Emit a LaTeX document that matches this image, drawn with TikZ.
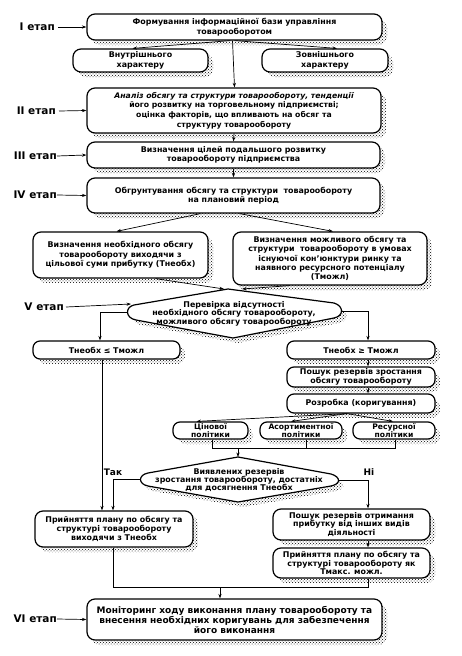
\documentclass[tikz,border=0pt]{standalone}
\usepackage{fontspec}
\setmainfont{DejaVu Sans}
\usetikzlibrary{arrows.meta,calc,patterns}
\definecolor{shd}{rgb}{0.45,0.45,0.45}
\begin{document}
\begin{tikzpicture}[x=1pt,y=-1pt,
  shadowbox/.style={draw=none, pattern=crosshatch dots, pattern color=black, rounded corners=8pt},
  box/.style={draw, line width=1.2pt, rounded corners=8pt, fill=white, align=center,
    font=\bfseries\fontsize{7.9}{9.4}\selectfont, inner sep=1pt},
  pill/.style={box, rounded corners=7pt},
  arr/.style={-{Stealth[length=4.5pt,width=3.2pt]}, line width=0.7pt},
  lnk/.style={line width=0.7pt},
  stage/.style={font=\bfseries\fontsize{10.5}{12}\selectfont, inner sep=0pt},
  dtext/.style={align=center, font=\bfseries\fontsize{7.9}{8.4}\selectfont, inner sep=0pt},
  dshape/.style={draw, line width=1.2pt, fill=white},
  dshadow/.style={draw=none, pattern=crosshatch dots, pattern color=black},
  brlabel/.style={font=\bfseries\fontsize{9}{10}\selectfont, inner sep=0pt}
]
\useasboundingbox (0,0) rectangle (461,656);

% stage labels
\node[stage, anchor=east] (s1) at (55,27) {I етап};
\node[stage, anchor=east] (s2) at (56,111) {II етап};
\node[stage, anchor=east] (s3) at (57,156) {III етап};
\node[stage, anchor=east] (s4) at (57,195) {IV етап};
\node[stage, anchor=east] (s5) at (64,307) {V етап};
\node[stage, anchor=east] (s6) at (57,619) {VI етап};

% shadows of boxes (drawn first)
\foreach \cx/\cy/\w/\h in {234.5/27/295/26, 140.5/60.5/135/23, 325/60.5/126/23, 234/110.5/294/45, 233.5/155/293/26, 233.5/195.5/293/35, 120.5/255/175/46, 330/258.5/194/53, 106.5/350/147/18, 361/350/148/18, 361/377/148/20, 361/403.5/148/19, 210.5/430.5/75/17, 301/430.5/82/17, 394/430.5/82/17, 114/529/158/36, 351.5/524.5/157/31, 351.5/563/157/30, 234.5/619.5/295/41}
  \path[shadowbox] (\cx-\w/2+5,\cy-\h/2+5) rectangle (\cx+\w/2+5,\cy+\h/2+5);

% boxes
\node[box, minimum width=295pt, minimum height=26pt] (b1) at (234.5,27) {Формування інформаційної бази управління\\товарооборотом};
\node[box, minimum width=135pt, minimum height=23pt] (b2) at (140.5,60.5) {Внутрішнього\\характеру};
\node[box, minimum width=126pt, minimum height=23pt] (b3) at (325,60.5) {Зовнішнього\\характеру};
\node[box, minimum width=294pt, minimum height=45pt, font=\bfseries\fontsize{7.7}{9.6}\selectfont] (b4) at (234,110.5) {\itshape Аналіз обсягу та структури товарообороту, тенденції\\його розвитку на торговельному підприємстві;\\оцінка факторів, що впливають на обсяг та\\структуру товарообороту};
\node[box, minimum width=293pt, minimum height=26pt] (b5) at (233.5,155) {Визначення цілей подальшого розвитку\\товарообороту підприємства};
\node[box, minimum width=293pt, minimum height=35pt] (b6) at (233.5,195.5) {Обгрунтування обсягу та структури \ товарообороту\\на плановий період};
\node[box, minimum width=175pt, minimum height=46pt] (b7) at (120.5,255) {Визначення необхідного обсягу\\товарообороту виходячи з\\цільової суми прибутку (Тнеобх)};
\node[box, minimum width=194pt, minimum height=53pt] (b8) at (330,258.5) {Визначення можливого обсягу та\\структури \ товарообороту в умовах\\існуючої кон'юнктури ринку та\\наявного ресурсного потенціалу\\(Тможл)};
\node[pill, minimum width=147pt, minimum height=18pt] (b10) at (106.5,350) {Тнеобх ≤ Тможл};
\node[pill, minimum width=148pt, minimum height=18pt] (b11) at (361,350) {Тнеобх ≥ Тможл};
\node[pill, minimum width=148pt, minimum height=20pt, font=\bfseries\fontsize{7.9}{8.6}\selectfont] (b12) at (361,377) {Пошук резервів зростання\\обсягу товарообороту};
\node[pill, minimum width=148pt, minimum height=19pt] (b13) at (361,403.5) {Розробка (коригування)};
\node[pill, minimum width=75pt, minimum height=17pt, font=\bfseries\fontsize{7.6}{8.4}\selectfont] (p1) at (210.5,430.5) {Цінової\\політики};
\node[pill, minimum width=82pt, minimum height=17pt, font=\bfseries\fontsize{7.6}{8.4}\selectfont] (p2) at (301,430.5) {Асортиментної\\політики};
\node[pill, minimum width=82pt, minimum height=17pt, font=\bfseries\fontsize{7.6}{8.4}\selectfont] (p3) at (394,430.5) {Ресурсної\\політики};
\node[box, minimum width=158pt, minimum height=36pt] (b18) at (114,529) {Прийняття плану по обсягу та\\структурі товарообороту\\виходячи з Тнеобх};
\node[box, minimum width=157pt, minimum height=31pt, font=\bfseries\fontsize{7.9}{8.8}\selectfont] (b19) at (351.5,524.5) {Пошук резервів отримання\\прибутку від інших видів\\діяльності};
\node[box, minimum width=157pt, minimum height=30pt, font=\bfseries\fontsize{7.9}{8.8}\selectfont] (b20) at (351.5,563) {Прийняття плану по обсягу та\\структурі товарообороту як\\Тмакс. можл.};
\node[box, minimum width=295pt, minimum height=41pt, font=\bfseries\fontsize{9}{10}\selectfont] (b21) at (234.5,619.5) {Моніторинг ходу виконання плану товарообороту та\\внесення необхідних коригувань для забезпечення\\його виконання};

% decision 1
\path[dshadow] (139,310) -- (233,294) -- (339,308) .. controls (349,311) and (349,321) .. (339,323) -- (238,343) -- (141,325) .. controls (130,323) and (130,312) .. (139,310) -- cycle;
\draw[dshape] (134,305) -- (228,289) -- (334,303) .. controls (344,306) and (344,316) .. (334,318) -- (233,338) -- (136,320) .. controls (125,318) and (125,307) .. (134,305) -- cycle;
\node[dtext] (d1) at (234,313.5) {Перевірка відсутності\\необхідного обсягу товарообороту,\\можливого обсягу товарообороту};
\coordinate (d1t) at (228,289);
\coordinate (d1l) at (127,312);
\coordinate (d1r) at (342,311);

% decision 2
\path[dshadow] (153,478) -- (243,462) -- (336,479) .. controls (346,482) and (346,489) .. (336,491) -- (243,507) -- (153,491) .. controls (143,489) and (143,480) .. (153,478) -- cycle;
\draw[dshape] (148,473) -- (238,457) -- (331,474) .. controls (341,477) and (341,484) .. (331,486) -- (238,502) -- (148,486) .. controls (138,484) and (138,475) .. (148,473) -- cycle;
\node[dtext] (d2) at (239,480) {Виявлених резервів\\зростання товарообороту, достатніх\\для досягнення Тнеобх};
\coordinate (d2t) at (238,457);
\coordinate (d2l) at (140.5,479.5);
\coordinate (d2r) at (338.5,480);

% helper coordinates
\coordinate (xL) at (100,0);
\coordinate (xL2) at (102,0);
\coordinate (xL3) at (113,0);
\coordinate (xR) at (368,0);

% stage arrows
\draw[arr] (s1.east) ++(3,0) -- (b1.west);
\draw[arr] (s2.east) ++(3,0) -- (b4.west);
\draw[arr] (s3.east) -- (b5.west);
\draw[arr] (s4.east) -- (b6.west);
\draw[arr] (s5.east) ++(2,0) -- ($(d1l)+(4,-8)$);
\draw[arr] (s6.east) -- (b21.west);

% connectors
\draw[arr] ($(b1.south)+(-4,0)$) -- ($(b2.north)+(-8,0)$);
\draw[arr] ($(b1.south)+(0,0)$) -- ($(b3.north)+(12,0)$);
\draw[arr] ($(b1.south)+(-2,0)$) -- (b4.north -| b1.south);
\draw[arr] (b4.south) -- (b5.north);
\draw[arr] (b5.south) -- (b6.north);
\draw[arr] ($(b6.south)+(-33,0)$) -- ($(b7.north)+(-4,0)$);
\draw[arr] ($(b6.south)+(6,0)$) -- ($(b8.north)+(3,0)$);
\draw[arr] ($(b7.south)+(35,0)$) -- ($(d1t)+(-4,0)$);
\draw[arr] ($(b8.south)+(-40,0)$) -- ($(d1t)+(14,0)$);
\draw[arr] (d1l) -| (b10.north -| xL);
\draw[arr] (d1r) -| (b11.north -| xR);
\draw[arr] (b11.south -| xR) -- (b12.north -| xR);
\draw[arr] (b12.south -| xR) -- (b13.north -| xR);
\draw[arr] ($(b13.south)+(-14,0)$) -- ($(p1.north)+(-14,0)$);
\draw[arr] ($(b13.south)+(-14,0)$) -- ($(p2.north)+(-10,0)$);
\draw[arr] ($(b13.south)+(-14,0)$) -- ($(p3.north)+(-1,0)$);
\draw[lnk] ($(p1.south)+(1.5,0)$) |- (238,448) coordinate (brk);
\draw[lnk] ($(p3.south)+(1,0)$) |- (brk);
\draw[lnk] ($(p2.south)+(5,0)$) -- ($(p2.south)+(5,9)$);
\draw[arr] (brk) -- (d2t);
\draw[arr] (b10.south -| xL2) -- (b18.north -| xL2);
\draw[arr] (d2l) -| (b18.north -| xL3);
\draw[arr] (d2r) -| (b19.north -| xR);
\draw[arr] (b19.south -| xR) -- (b20.north -| xR);
\draw[lnk] (b18.south -| xL3) |- (220,587) coordinate (mrg);
\draw[lnk] (b20.south -| xR) |- (mrg);
\draw[arr] (mrg) -- (b21.north -| mrg);

% branch labels
\node[brlabel] (tak) at (113,472) {Так};
\node[brlabel] (ni) at (369,472) {Ні};
\end{tikzpicture}
\end{document}
